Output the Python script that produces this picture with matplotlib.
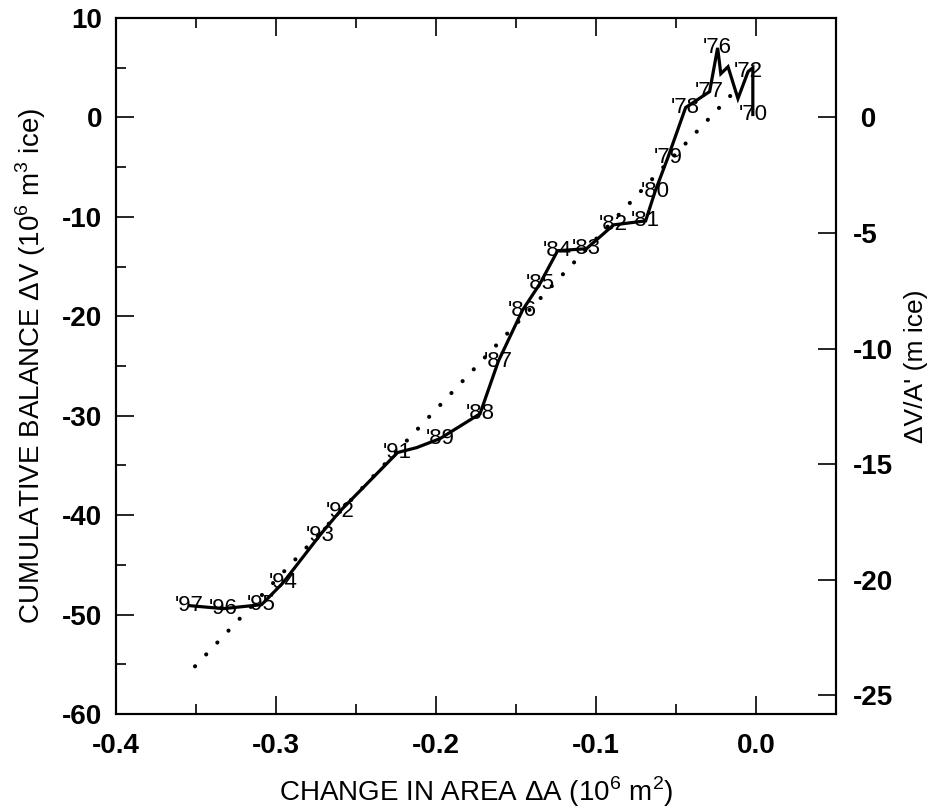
import matplotlib
matplotlib.use("Agg")
import matplotlib.pyplot as plt
from matplotlib.ticker import MultipleLocator

plt.rcParams['axes.unicode_minus'] = False
plt.rcParams['font.family'] = ['Liberation Sans', 'DejaVu Sans']
plt.rcParams['mathtext.fontset'] = 'custom'
plt.rcParams['mathtext.rm'] = 'Liberation Sans'

# cumulative balance vs change in area, 1970-1997
years = [70, 71, 72, 73, 74, 75, 76, 77, 78, 79, 80, 81, 82, 83,
         84, 85, 86, 87, 88, 89, 90, 91, 92, 93, 94, 95, 96, 97]
dA = [-0.002, -0.002, -0.005, -0.0113, -0.0175, -0.022, -0.024, -0.029,
      -0.044, -0.055, -0.063, -0.069, -0.089, -0.106, -0.124, -0.135,
      -0.146, -0.161, -0.1725, -0.1975, -0.212, -0.224, -0.26, -0.2725,
      -0.2956, -0.309, -0.333, -0.354]
dV = [0.3, 5.0, 4.6, 1.9, 5.1, 4.4, 7.0, 2.6, 1.0, -4.0, -7.4, -10.4,
      -10.8, -13.2, -13.4, -16.7, -19.4, -24.5, -29.8, -32.3, -33.2,
      -33.7, -39.6, -42.0, -46.8, -49.0, -49.4, -49.1]
labelled = [70, 72, 76, 77, 78, 79, 80, 81, 82, 83, 84, 85, 86, 87, 88,
            89, 91, 92, 93, 94, 95, 96, 97]

# dotted regression line end points
fit_x = [-0.3506, -0.013]
fit_y = [-55.2, 2.7]

area_ratio = 2.325  # dV/A' scale relative to left axis

fig = plt.figure(figsize=(9.4, 8.09), dpi=100)
ax = fig.add_axes([0.1234, 0.1174, 0.766, 0.8603])

ax.plot(dA, dV, color='black', lw=2.3, solid_joinstyle='miter')
ax.plot(fit_x, fit_y, color='black', lw=3.0, linestyle=(0, (0.01, 3.9)),
        dash_capstyle='round')

for yr, x, y in zip(years, dA, dV):
    if yr in labelled:
        ax.text(x, y, "'%02d" % yr, ha='center', va='center', fontsize=16)

ax.set_xlim(-0.4, 0.05)
ax.set_ylim(-60, 10)
ax.xaxis.set_major_locator(MultipleLocator(0.1))
ax.xaxis.set_minor_locator(MultipleLocator(0.05))
ax.yaxis.set_major_locator(MultipleLocator(10))
ax.yaxis.set_minor_locator(MultipleLocator(5))
ax.xaxis.set_major_formatter(plt.FuncFormatter(lambda v, p: '%.1f' % (0 if abs(v) < 1e-9 else v)))
ax.tick_params(which='both', direction='in', top=True, right=False, width=1.2)
ax.tick_params(which='major', length=13, labelsize=20)
ax.tick_params(axis='x', which='major', pad=14)
ax.tick_params(axis='y', which='major', pad=10)
ax.tick_params(which='minor', length=7)
for t in ax.get_xticklabels() + ax.get_yticklabels():
    t.set_fontweight('bold')

for s in ax.spines.values():
    s.set_linewidth(1.5)

ax.set_xlabel("CHANGE IN AREA \u0394A (10$^6$ m$^2$)", labelpad=11, fontsize=20)
ax.set_ylabel("CUMULATIVE BALANCE \u0394V (10$^6$ m$^3$ ice)", labelpad=10, fontsize=20)

ax2 = ax.twinx()
ax2.set_ylim(-60 / area_ratio, 10 / area_ratio)
ax2.yaxis.set_major_locator(MultipleLocator(5))
ax2.tick_params(axis='y', direction='in', length=13, width=1.2, labelsize=20, pad=12)
ax2.yaxis.set_major_formatter(plt.FuncFormatter(lambda v, p: ' 0' if abs(v) < 1e-9 else '%d' % v))
for t in ax2.get_yticklabels():
    t.set_fontweight('bold')
for s in ax2.spines.values():
    s.set_linewidth(1.5)
ax2.set_ylabel("\u0394V/A' (m ice)", labelpad=8, fontsize=19)

fig.savefig('out.png', dpi=100)
